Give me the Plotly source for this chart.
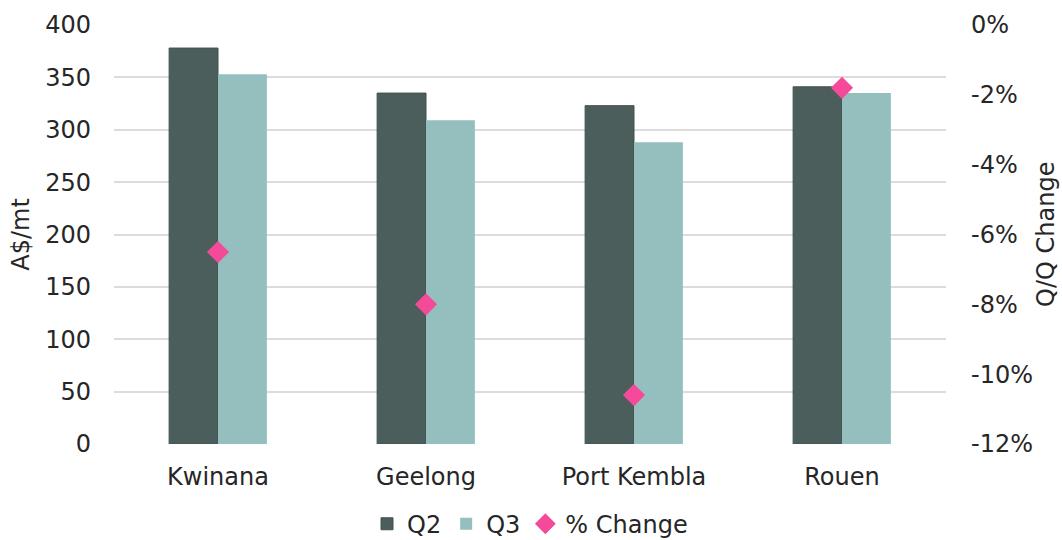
import plotly.graph_objects as go

# Quarterly prices by port (A$/mt) and quarter-on-quarter change (%)
ports = ["Kwinana", "Geelong", "Port Kembla", "Rouen"]
q2_price = [378, 335, 323, 341]
q3_price = [353, 309, 288, 335]
pct_change = [-6.5, -8.0, -10.6, -1.8]

left_ticks = [0, 50, 100, 150, 200, 250, 300, 350, 400]
right_ticks = [0, -2, -4, -6, -8, -10, -12]
right_tick_text = ["0%", "-2%", "-4%", "-6%", "-8%", "-10%", "-12%"]

FONT = "DejaVu Sans"
TEXT = "#262626"

fig = go.Figure()
fig.add_trace(go.Bar(
    x=ports, y=q2_price, name="Q2",
    marker=dict(color="#4b5e5c", line=dict(color="#43524f", width=1)),
))
fig.add_trace(go.Bar(
    x=ports, y=q3_price, name="Q3",
    marker=dict(color="#94bfbe", line=dict(color="#94bfbe", width=0)),
))
fig.add_trace(go.Scatter(
    x=ports, y=pct_change, name="% Change", yaxis="y2",
    mode="markers",
    marker=dict(symbol="diamond", size=17, color="#f5499a"),
))

fig.update_layout(
    width=1062, height=540,
    margin=dict(l=114, r=116, t=25, b=96, autoexpand=False),
    paper_bgcolor="white", plot_bgcolor="white",
    font=dict(family=FONT, size=24, color=TEXT),
    barmode="group", bargap=0.53, bargroupgap=0,
    showlegend=True,
    legend=dict(
        orientation="h", x=0.5, xanchor="center", y=-0.245, yanchor="bottom",
        font=dict(size=24, color=TEXT), traceorder="normal",
        itemwidth=30,
    ),
    xaxis=dict(
        showgrid=False, showline=False, zeroline=False,
        tickfont=dict(size=24, color=TEXT), ticklabelstandoff=16,
    ),
    yaxis=dict(
        range=[0, 400], tickvals=left_ticks,
        showgrid=True, gridcolor="#dcdcdc", gridwidth=1.5,
        zeroline=False, showline=False,
        tickfont=dict(size=24, color=TEXT), ticklabelstandoff=22,
        title=dict(text="A$/mt", font=dict(size=24, color=TEXT), standoff=8),
    ),
    yaxis2=dict(
        overlaying="y", side="right",
        range=[-12, 0], tickvals=right_ticks, ticktext=right_tick_text,
        showgrid=False, zeroline=False, showline=False,
        tickfont=dict(size=24, color=TEXT), ticklabelstandoff=24,
    ),
    annotations=[dict(
        text="Q/Q Change", xref="paper", yref="paper",
        x=1.1195, y=0.5, xanchor="center", yanchor="middle",
        textangle=-90, showarrow=False,
        font=dict(family=FONT, size=24, color=TEXT),
    )],
)

fig.write_html("out.html")
